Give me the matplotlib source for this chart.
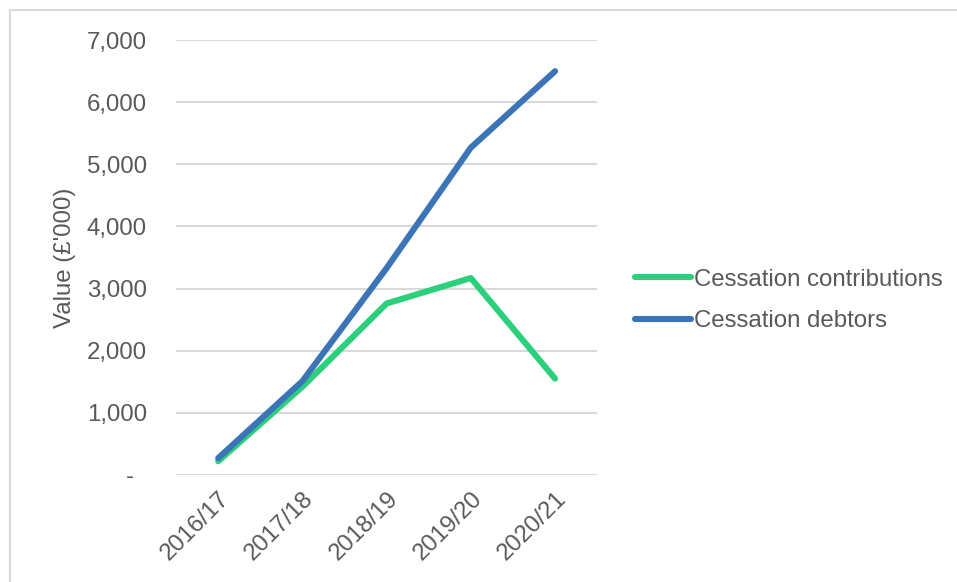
import matplotlib.pyplot as plt
from matplotlib.patches import Rectangle
from matplotlib.ticker import FuncFormatter

years = ['2016/17', '2017/18', '2018/19', '2019/20', '2020/21']
contributions = [220, 1420, 2760, 3170, 1550]
debtors = [270, 1510, 3330, 5270, 6500]

green = '#2ad07b'
blue = '#3b75b8'
grey = '#595959'
fs = 17.3

plt.rcParams['font.family'] = ['Liberation Sans', 'DejaVu Sans']

fig = plt.figure(figsize=(9.57, 5.82), dpi=100)
ax = fig.add_axes([0.184, 0.184, 0.440, 0.747])

x = range(len(years))
ax.plot(x, contributions, color=green, lw=4.4, solid_capstyle='round',
        solid_joinstyle='round', label='Cessation contributions')
ax.plot(x, debtors, color=blue, lw=4.4, solid_capstyle='round',
        solid_joinstyle='round', label='Cessation debtors')

ax.set_xlim(-0.5, len(years) - 0.5)
ax.set_ylim(0, 7000)
ax.set_yticks(range(0, 7001, 1000))
# accounting style: zero shown as a dash
ax.yaxis.set_major_formatter(FuncFormatter(lambda v, p: '-  ' if v == 0 else f'{int(v):,}'))
ax.set_xticks(list(x))
ax.set_xticklabels(years, rotation=45, ha='right', va='top', rotation_mode='anchor')

ax.grid(axis='y', color='#d9d9d9', lw=1.5)
ax.set_axisbelow(True)
for s in ax.spines.values():
    s.set_visible(False)
ax.tick_params(axis='both', length=0, labelsize=fs, labelcolor=grey)
ax.tick_params(axis='y', pad=21)
ax.tick_params(axis='x', pad=9)

ax.set_ylabel("Value (£'000)", fontsize=fs, color=grey, labelpad=8)

ax.legend(loc='center left', bbox_to_anchor=(0.664, 0.484), bbox_transform=fig.transFigure,
          frameon=False, fontsize=fs, labelcolor=grey, handlelength=2.3,
          handletextpad=0.15, borderpad=0, borderaxespad=0, labelspacing=0.8)

# outer chart border
fig.add_artist(Rectangle((10 / 957, -0.1), 1.2, 1.1 - 10 / 582, transform=fig.transFigure,
                         fill=False, edgecolor='#d9d9d9', lw=1.5))

fig.savefig('out.png', dpi=100)
